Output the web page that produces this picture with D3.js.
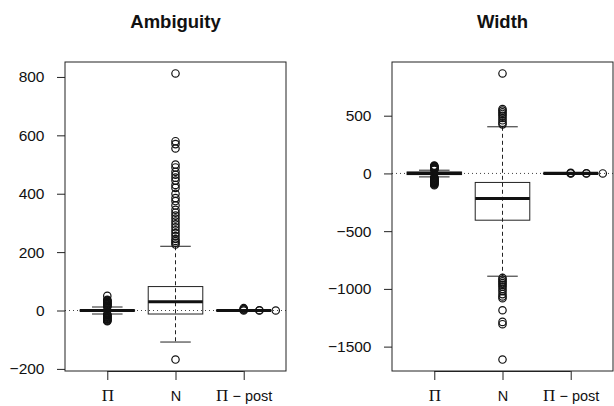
<!DOCTYPE html>
<html>
<head>
<meta charset="utf-8">
<script src="https://cdn.jsdelivr.net/npm/d3@7"></script>
<style>
  body { margin: 0; background: #fff; }
  text { font-family: "Liberation Sans", Arial, sans-serif; fill: #111; }
</style>
</head>
<body>
<div id="chart"></div>
<script>
// groups on the x axis
var groups = ["Π", "N", "Π − post"];
var titles = ["Ambiguity", "Width"];

// Ambiguity panel
var ambTicks = [-200, 0, 200, 400, 600, 800];
var ambMed = [0, 30, 0];
var ambQ1 = [-2, -12, -1];
var ambQ3 = [2, 82, 1];
var ambLo = [-12, -108, -1];
var ambHi = [12, 220, 1];
var ambOutPi = [50, 37, 35, 33, 31, 29, 27, 25, 23, 21, 19, 17, 15, 13,
                -13, -15, -17, -19, -21, -23, -25, -27, -29, -31, -33, -35, -37];
var ambOutN = [812, 580, 570, 555, 500, 490, 475, 465, 455, 445, 430, 420, 400, 385, 375, 360, 345,
               335, 325, 315, 305, 295, 285, 275, 265, 255, 245, 238, 232, 226, -168];
var ambPostX = [3, 3, 3, 3, 3.23, 3.23, 3.47];
var ambPostY = [8, 5, 3, 0, 1, 0, 0];

// Width panel
var widTicks = [-1500, -1000, -500, 0, 500];
var widMed = [0, -217, 0];
var widQ1 = [-10, -405, -1];
var widQ3 = [12, -78, 1];
var widLo = [-30, -890, -1];
var widHi = [28, 404, 1];
var widOutPi = [68, 64, 60, 56, 52, 48, 44, 40, 36, 32,
                -34, -38, -42, -46, -50, -54, -58, -62, -66, -70, -74, -78, -82, -86, -90, -96, -102];
var widOutN = [866, 557, 545, 530, 515, 500, 480, 460, 440, 425, -905, -920, -935, -950, -965, -980,
               -1000, -1020, -1045, -1065, -1080, -1185, -1286, -1306, -1612];
var widPostX = [3, 3, 3, 3.23, 3.23, 3.47];
var widPostY = [5, 2, 0, 1, 0, 0];

var W = 614, H = 406;
var svg = d3.select("#chart").append("svg").attr("width", W).attr("height", H);

var panels = [
    {title: titles[0], left: 65, ticks: ambTicks, med: ambMed, q1: ambQ1, q3: ambQ3, lo: ambLo, hi: ambHi,
     out: [ambOutPi, ambOutN], postX: ambPostX, postY: ambPostY},
    {title: titles[1], left: 392, ticks: widTicks, med: widMed, q1: widQ1, q3: widQ3, lo: widLo, hi: widHi,
     out: [widOutPi, widOutN], postX: widPostX, postY: widPostY}
];
var plotW = 221, plotTop = 62, plotBottom = 371;

panels.forEach(function(p) {
    var g = svg.append("g");
    var all = p.out[0].concat(p.out[1], p.postY, p.lo, p.hi);
    var ext = d3.extent(all);
    var pad = (ext[1] - ext[0]) * 0.04;

    var y = d3.scaleLinear().domain([ext[0] - pad, ext[1] + pad]).range([plotBottom, plotTop]);
    var x = d3.scaleLinear().domain([0.38, 3.62]).range([p.left, p.left + plotW]);
    var bw = (x(2) - x(1)) * 0.8;

    // title
    g.append("text")
        .attr("x", p.left + plotW / 2).attr("y", 28)
        .attr("text-anchor", "middle")
        .style("font-size", "18.5px").style("font-weight", "bold")
        .text(p.title);

    // dotted zero line
    g.append("line")
        .attr("x1", p.left).attr("x2", p.left + plotW)
        .attr("y1", y(0)).attr("y2", y(0))
        .attr("stroke", "#444").attr("stroke-width", 1)
        .attr("stroke-dasharray", "1,3");

    var idx = [0, 1, 2];
    // whiskers (dashed)
    g.selectAll(".wh").data(idx).enter().append("line")
        .attr("x1", function(i) { return x(i + 1); }).attr("x2", function(i) { return x(i + 1); })
        .attr("y1", function(i) { return y(p.hi[i]); }).attr("y2", function(i) { return y(p.lo[i]); })
        .attr("stroke", "#222").attr("stroke-dasharray", "4,3");
    // caps
    [p.lo, p.hi].forEach(function(arr) {
        g.selectAll(null).data(idx).enter().append("line")
            .attr("x1", function(i) { return x(i + 1) - bw * 0.28; })
            .attr("x2", function(i) { return x(i + 1) + bw * 0.28; })
            .attr("y1", function(i) { return y(arr[i]); }).attr("y2", function(i) { return y(arr[i]); })
            .attr("stroke", "#222");
    });
    // boxes
    g.selectAll(".bx").data(idx).enter().append("rect")
        .attr("x", function(i) { return x(i + 1) - bw / 2; })
        .attr("width", bw)
        .attr("y", function(i) { return y(p.q3[i]); })
        .attr("height", function(i) { return y(p.q1[i]) - y(p.q3[i]); })
        .attr("fill", "none").attr("stroke", "#222");
    // medians
    g.selectAll(".md").data(idx).enter().append("line")
        .attr("x1", function(i) { return x(i + 1) - bw / 2; })
        .attr("x2", function(i) { return x(i + 1) + bw / 2; })
        .attr("y1", function(i) { return y(p.med[i]); }).attr("y2", function(i) { return y(p.med[i]); })
        .attr("stroke", "#111").attr("stroke-width", 3.2);

    // outliers
    var pts = [];
    p.out[0].forEach(function(v) { pts.push([1, v]); });
    p.out[1].forEach(function(v) { pts.push([2, v]); });
    p.postX.forEach(function(v, i) { pts.push([v, p.postY[i]]); });
    g.selectAll(".pt").data(pts).enter().append("circle")
        .attr("cx", function(d) { return x(d[0]); })
        .attr("cy", function(d) { return y(d[1]); })
        .attr("r", 3.7)
        .attr("fill", "none").attr("stroke", "#111").attr("stroke-width", 1.2);

    // frame
    g.append("rect")
        .attr("x", p.left).attr("y", plotTop)
        .attr("width", plotW).attr("height", plotBottom - plotTop)
        .attr("fill", "none").attr("stroke", "#222");

    // y axis
    var yAxis = d3.axisLeft(y).tickValues(p.ticks).tickSize(8).tickPadding(12.5)
        .tickFormat(function(d) { return d < 0 ? "\u2212" + Math.abs(d) : d; });
    var ya = g.append("g").attr("transform", "translate(" + p.left + ",0)").call(yAxis);
    ya.select(".domain").remove();
    ya.selectAll("text").style("font-size", "15.5px").attr("fill", "#111");
    ya.selectAll("line").attr("stroke", "#222");

    // x axis
    var xAxis = d3.axisBottom(x).tickValues([1, 2, 3]).tickSize(9).tickFormat("");
    var xa = g.append("g").attr("transform", "translate(0," + plotBottom + ")").call(xAxis);
    xa.select(".domain").attr("d", "M" + x(1) + ",0.5H" + x(3)).attr("stroke", "#222");
    xa.selectAll("line").attr("stroke", "#222");
    xa.selectAll(".tick").append("text")
        .attr("y", 30).attr("dy", 0).attr("text-anchor", "middle")
        .attr("fill", "#111").style("font-size", "14.5px")
        .each(function(d, i) {
            var t = d3.select(this);
            var lab = groups[i];
            if (lab.charAt(0) === "Π") {
                t.append("tspan").style("font-family", "'Liberation Serif', 'Times New Roman', serif")
                    .style("font-size", "17px").text("Π");
                if (lab.length > 1) t.append("tspan").text(lab.slice(1));
            } else {
                t.text(lab);
            }
        });
});
</script>
</body>
</html>
